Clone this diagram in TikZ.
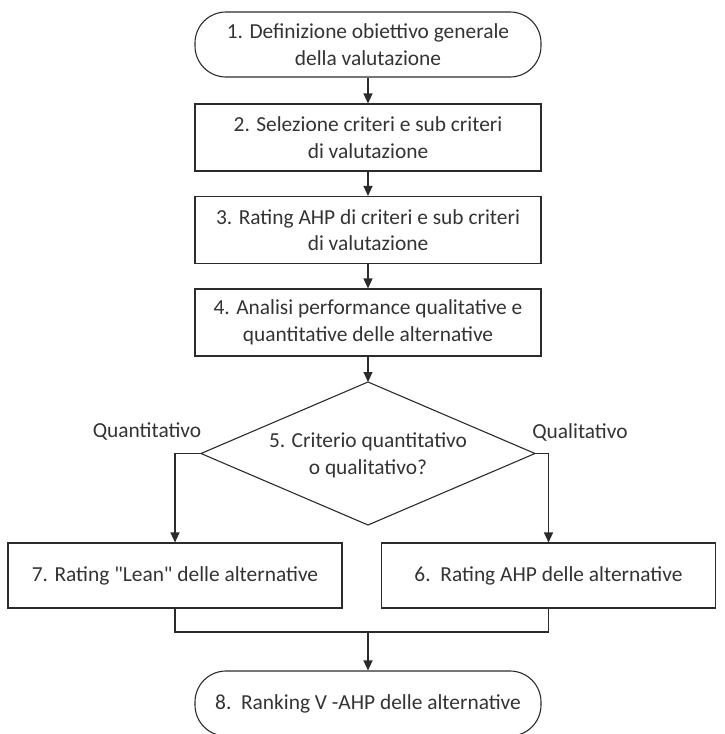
\documentclass[tikz,border=0pt]{standalone}
\usepackage{fontspec}
\setmainfont{Carlito}[Ligatures=TeXOff]
\usetikzlibrary{arrows.meta}
\definecolor{ink}{HTML}{2B2B2B}
\definecolor{txt}{HTML}{333333}
\begin{document}
\begin{tikzpicture}[x=1pt,y=-1pt,
  font=\fontsize{21.4}{26.7}\selectfont,
  every node/.style={text=txt},
  line/.style={draw=ink,line width=1.1pt},
  arr/.style={line,-{Triangle[length=10pt,width=9pt]}},
  stepbox/.style={line,rectangle,minimum width=346pt,minimum height=67pt,align=center,inner sep=0pt},
  terminal/.style={stepbox,minimum height=65pt,rounded corners=31pt},
  sidebox/.style={stepbox,minimum width=334pt,minimum height=65pt},
  label/.style={align=center,inner sep=0pt},
  branch/.style={text=txt}]
\useasboundingbox (0,0) rectangle (725,734);

\node[terminal] (n1) at (368,44.5) {1. Definizione obiettivo generale\\della valutazione};
\node[stepbox] (n2) at (368,137.5) {2. Selezione criteri e sub criteri\\di valutazione};
\node[stepbox] (n3) at (368,230) {3. Rating AHP di criteri e sub criteri\\di valutazione};
\node[stepbox] (n4) at (368,322.5) {4. Analisi performance qualitative e\\quantitative delle alternative};

% decision diamond: text node plus its four vertices
\node[label] (n5) at (368,455) {5. Criterio quantitativo\\o qualitativo?};
\coordinate (n5t) at (368,382);
\coordinate (n5l) at (201,453.5);
\coordinate (n5r) at (535,453.5);
\coordinate (n5b) at (368,525);
\draw[line,line join=miter] (n5t) -- (n5r) -- (n5b) -- (n5l) -- cycle;

\node[sidebox] (n7) at (175,575.5) {7. Rating "Lean" delle alternative};
\node[sidebox] (n6) at (548.5,575.5) {6.\ \ Rating AHP delle alternative};
\node[terminal] (n8) at (368,703.5) {8.\ \ Ranking V -AHP delle alternative};

\node[branch] (lq) at (147,432) {Quantitativo};
\node[branch] (lc) at (580,432) {Qualitativo};

\coordinate (join) at (368,632);

\draw[arr] (n1) -- (n2);
\draw[arr] (n2) -- (n3);
\draw[arr] (n3) -- (n4);
\draw[arr] (n4) -- (n5t);
\draw[arr] (n5l) -| (n7.north);
\draw[arr] (n5r) -| (n6.north);
\draw[line] (n7.south) |- (join) -| (n6.south);
\draw[arr] (join) -- (n8);
\end{tikzpicture}
\end{document}
